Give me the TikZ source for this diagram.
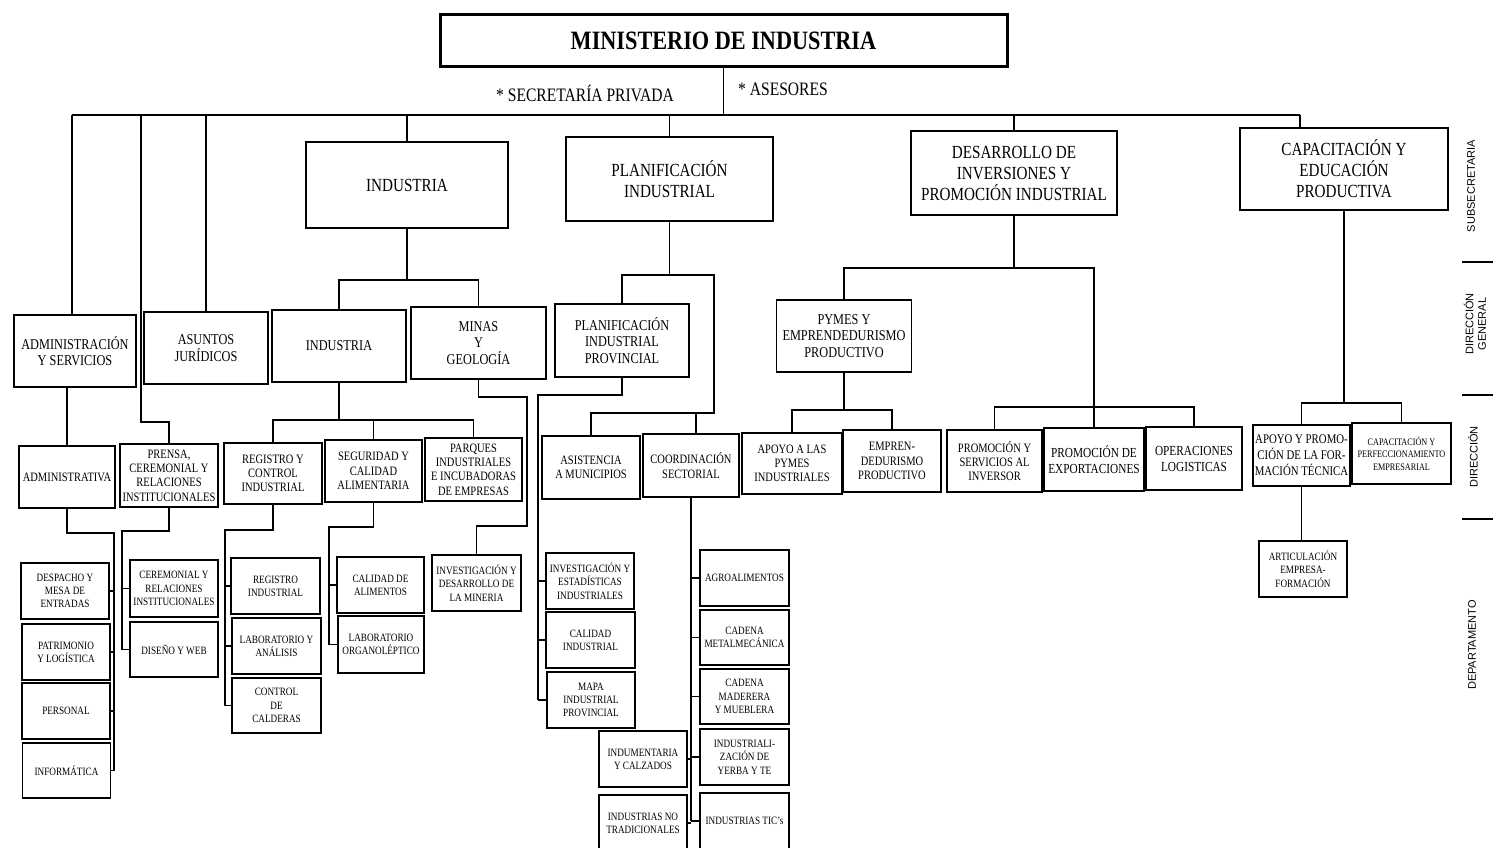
\documentclass[tikz,border=0pt]{standalone}
\usepackage{fontspec}
\setmainfont{Liberation Serif}[FakeStretch=0.82]
\newfontfamily\titlefont{Liberation Serif}[FakeStretch=0.84]
\newfontfamily\sidefont{Liberation Sans}
\begin{document}
\begin{tikzpicture}[x=1pt,y=-1pt,
  box/.style={draw, line width=1.3pt, align=center, inner xsep=0.5pt, inner ysep=1pt},
  subbox/.style={box, font=\fontsize{18.5}{21}\selectfont, minimum width=#1, minimum height=84pt},
  dgbox/.style={box, font=\fontsize{15}{16.5}\selectfont, minimum width=#1, minimum height=72pt},
  dirbox/.style={box, font=\fontsize{12.8}{14.3}\selectfont, minimum width=#1, minimum height=62pt},
  depbox/.style={box, font=\fontsize{11.2}{13.3}\selectfont, minimum width=#1, minimum height=56pt},
  conn/.style={line width=1.1pt},
  side/.style={font=\sidefont\fontsize{11}{12.5}\selectfont, rotate=90, align=center, inner sep=0pt},
  sepline/.style={line width=1.3pt}
]
\useasboundingbox (0,0) rectangle (1493,848);
\clip (0,0) rectangle (1493,848);
\fill[white] (0,0) rectangle (1493,848);

% ---------- top ----------
\node[draw, line width=3pt, minimum width=567pt, minimum height=52pt,
      font=\titlefont\bfseries\fontsize{26.5}{30}\selectfont] (title) at (723.5,41) {MINISTERIO DE INDUSTRIA};
\node[font=\fontsize{19}{22}\selectfont, inner sep=0pt] (sec) at (585,93) {* SECRETARÍA PRIVADA};
\node[font=\fontsize{19}{22}\selectfont, inner sep=0pt] (ase) at (783,89) {* ASESORES};

\coordinate (bus1) at (72,115);
\coordinate (bus2) at (1300,115);
\draw[conn] (bus1) -- (bus2);
\draw[conn] (title.south) -- (title.south |- bus1);

% ---------- subsecretarias ----------
\node[subbox=202pt, minimum height=86pt] (SIND) at (407,185) {INDUSTRIA};
\node[subbox=207pt] (SPLAN) at (669.5,179) {PLANIFICACIÓN\\INDUSTRIAL};
\node[subbox=206pt] (SDES) at (1014,173) {DESARROLLO DE\\INVERSIONES Y\\PROMOCIÓN INDUSTRIAL};
\node[subbox=208pt, minimum height=82pt] (SCAP) at (1344,169) {CAPACITACIÓN Y\\EDUCACIÓN\\PRODUCTIVA};

% ---------- direcciones generales ----------
\node[dgbox=122pt] (ADM) at (75,351) {ADMINISTRACIÓN\\Y SERVICIOS};
\node[dgbox=124pt] (ASU) at (206,348) {ASUNTOS\\JURÍDICOS};
\node[dgbox=134pt] (IND2) at (339,346) {INDUSTRIA};
\node[dgbox=135pt] (MIN) at (478.5,343) {MINAS\\Y\\GEOLOGÍA};
\node[dgbox=134pt, minimum height=73pt] (PLP) at (622,340.5) {PLANIFICACIÓN\\INDUSTRIAL\\PROVINCIAL};
\node[dgbox=135pt] (PYM) at (844,336) {PYMES Y\\EMPRENDEDURISMO\\PRODUCTIVO};

% ---------- direcciones ----------
\node[dirbox=96pt] (ADV) at (67,477) {ADMINISTRATIVA};
\node[dirbox=98pt, minimum height=63pt] (PRE) at (169,475.5) {PRENSA,\\CEREMONIAL Y\\RELACIONES\\INSTITUCIONALES};
\node[dirbox=98pt, minimum height=61pt] (RCI) at (273,473.5) {REGISTRO Y\\CONTROL\\INDUSTRIAL};
\node[dirbox=97pt] (SCA) at (373.5,471) {SEGURIDAD Y\\CALIDAD\\ALIMENTARIA};
\node[dirbox=97pt, minimum height=63pt] (PAR) at (473.5,469.5) {PARQUES\\INDUSTRIALES\\E INCUBADORAS\\DE EMPRESAS};
\node[dirbox=98pt, minimum height=63pt] (ASI) at (591,467.5) {ASISTENCIA\\A MUNICIPIOS};
\node[dirbox=96pt, minimum height=63pt] (COO) at (691,465.5) {COORDINACIÓN\\SECTORIAL};
\node[dirbox=100pt, minimum height=61pt] (APY) at (792,463.5) {APOYO A LAS\\PYMES\\INDUSTRIALES};
\node[dirbox=98pt] (EMP) at (892,461) {EMPREN-\\DEDURISMO\\PRODUCTIVO};
\node[dirbox=95pt] (PSI) at (994.5,461) {PROMOCIÓN Y\\SERVICIOS AL\\INVERSOR};
\node[dirbox=100pt, minimum height=63pt, font=\fontsize{13.8}{16}\selectfont] (PEX) at (1094,459.5) {PROMOCIÓN DE\\EXPORTACIONES};
\node[dirbox=96pt, minimum height=63pt, font=\fontsize{13.8}{16}\selectfont] (OPL) at (1194,458.5) {OPERACIONES\\LOGISTICAS};
\node[dirbox=97pt, minimum height=61pt, font=\fontsize{13.2}{16}\selectfont] (APF) at (1301.5,455.5) {APOYO Y PROMO-\\CIÓN DE LA FOR-\\MACIÓN TÉCNICA};
\node[dirbox=99pt, minimum height=61pt, font=\fontsize{10}{12.5}\selectfont] (CPE) at (1401.5,453.5) {CAPACITACIÓN Y\\PERFECCIONAMIENTO\\EMPRESARIAL};

% ---------- departamentos ----------
\node[depbox=88pt] (DME) at (65,591) {DESPACHO Y\\MESA DE\\ENTRADAS};
\node[depbox=88pt] (PYL) at (66,652) {PATRIMONIO\\Y LOGÍSTICA};
\node[depbox=88pt] (PER) at (66,711) {PERSONAL};
\node[depbox=88pt, minimum height=55pt] (INF) at (66.5,770.5) {INFORMÁTICA};
\node[depbox=88pt, minimum height=57pt] (CRI) at (174,588.5) {CEREMONIAL Y\\RELACIONES\\INSTITUCIONALES};
\node[depbox=88pt, minimum height=55pt] (DYW) at (174,649.5) {DISEÑO Y WEB};
\node[depbox=89pt] (RIN) at (275.5,586) {REGISTRO\\INDUSTRIAL};
\node[depbox=89pt] (LYA) at (276.5,646) {LABORATORIO Y\\ANÁLISIS};
\node[depbox=89pt, minimum height=55pt] (CDC) at (276.5,705.5) {CONTROL\\DE\\CALDERAS};
\node[depbox=87pt] (CDA) at (380.5,585) {CALIDAD DE\\ALIMENTOS};
\node[depbox=86pt, minimum height=57pt] (LOR) at (381,644.5) {LABORATORIO\\ORGANOLÉPTICO};
\node[depbox=89pt] (IDM) at (476.5,583) {INVESTIGACIÓN Y\\DESARROLLO DE\\LA MINERIA};
\node[depbox=88pt] (IEI) at (590,581) {INVESTIGACIÓN Y\\ESTADÍSTICAS\\INDUSTRIALES};
\node[depbox=89pt] (CIN) at (590.5,640) {CALIDAD\\INDUSTRIAL};
\node[depbox=88pt] (MIP) at (591,700) {MAPA\\INDUSTRIAL\\PROVINCIAL};
\node[depbox=89pt] (AGR) at (744.5,578) {AGROALIMENTOS};
\node[depbox=89pt, minimum height=55pt] (CME) at (744.5,637.5) {CADENA\\METALMECÁNICA};
\node[depbox=89pt, minimum height=55pt] (CMM) at (744.5,696.5) {CADENA\\MADERERA\\Y MUEBLERA};
\node[depbox=89pt] (IYT) at (744.5,757) {INDUSTRIALI-\\ZACIÓN DE\\YERBA Y TE};
\node[depbox=89pt] (TIC) at (744.5,821) {INDUSTRIAS TIC's};
\node[depbox=88pt] (IYC) at (643,759) {INDUMENTARIA\\Y CALZADOS};
\node[depbox=88pt] (INT) at (643,823) {INDUSTRIAS NO\\TRADICIONALES};
\node[depbox=88pt] (ART) at (1303,569) {ARTICULACIÓN\\EMPRESA-\\FORMACIÓN};

% ---------- connectors: bus to first level ----------
\draw[conn] (bus1) -- (bus1 |- ADM.north);
\coordinate (jp) at (141,422);
\draw[conn] (jp |- bus1) -- (jp) -| (PRE.north);
\draw[conn] (ASU.north |- bus1) -- (ASU.north);
\draw[conn] (SIND.north |- bus1) -- (SIND.north);
\draw[conn] (SPLAN.north |- bus1) -- (SPLAN.north);
\draw[conn] (SDES.north |- bus1) -- (SDES.north);
\draw[conn] (bus2) -- (bus2 |- SCAP.north);

% Industria
\coordinate (hI) at (0,280);
\draw[conn] (SIND.south) -- (SIND.south |- hI);
\draw[conn] (IND2.north) |- (MIN.north |- hI) -- (MIN.north);

% Planificacion
\coordinate (hP) at (714,275);
\coordinate (hP2) at (714,413);
\coordinate (jc) at (696,413);
\draw[conn] (SPLAN.south) -- (SPLAN.south |- hP);
\draw[conn] (PLP.north) |- (hP) -- (hP2) -| (ASI.north);
\draw[conn] (jc) -- (jc |- COO.north);

% Desarrollo
\coordinate (hD) at (1094,268);
\coordinate (hE) at (0,407);
\draw[conn] (SDES.south) -- (SDES.south |- hD);
\draw[conn] (PYM.north) |- (hD) -- (hD |- PEX.north);
\draw[conn] (PSI.north) |- (OPL.north |- hE) -- (OPL.north);

% Capacitacion
\coordinate (hC) at (0,403);
\draw[conn] (SCAP.south) -- (SCAP.south |- hC);
\draw[conn] (APF.north) |- (CPE.north |- hC) -- (CPE.north);
\draw[conn] (APF.south) -- (APF.south |- ART.north);

% Pymes
\coordinate (hY) at (0,410);
\draw[conn] (PYM.south) -- (PYM.south |- hY);
\draw[conn] (APY.north) |- (EMP.north |- hY) -- (EMP.north);

% Administracion
\draw[conn] (ADV.north |- ADM.south) -- (ADV.north);

% Industria DG
\coordinate (hR) at (0,420);
\draw[conn] (IND2.south) -- (IND2.south |- hR);
\draw[conn] (RCI.north) |- (PAR.north |- hR) -- (PAR.north);
\draw[conn] (SCA.north |- hR) -- (SCA.north);

% Minas
\coordinate (m1) at (527,397);
\coordinate (m2) at (527,526);
\draw[conn] (MIN.south) |- (m1) -- (m2) -| (IDM.north);

% Planificacion provincial
\coordinate (p1) at (538,395);
\draw[conn] (PLP.south) |- (p1) -- (p1 |- MIP.west);
\draw[conn] (p1 |- IEI.west) -- (IEI.west);
\draw[conn] (p1 |- CIN.west) -- (CIN.west);
\draw[conn] (p1 |- MIP.west) -- (MIP.west);

% Coordinacion sectorial
\draw[conn] (COO.south) -- (COO.south |- TIC.west);
\draw[conn] (COO.south |- AGR.west) -- (AGR.west);
\draw[conn] (COO.south |- CME.west) -- (CME.west);
\draw[conn] (COO.south |- CMM.west) -- (CMM.west);
\draw[conn] (COO.south |- IYT.west) -- (IYT.west);
\draw[conn] (COO.south |- TIC.west) -- (TIC.west);
\draw[conn] (COO.south |- IYC.east) -- (IYC.east);
\draw[conn] (COO.south |- INT.east) -- (INT.east);

% Administrativa
\coordinate (a1) at (114,533);
\draw[conn] (ADV.south) |- (a1) -- (a1 |- INF.east);
\draw[conn] (a1 |- DME.east) -- (DME.east);
\draw[conn] (a1 |- PYL.east) -- (PYL.east);
\draw[conn] (a1 |- PER.east) -- (PER.east);
\draw[conn] (a1 |- INF.east) -- (INF.east);

% Prensa
\coordinate (r1) at (122,531);
\draw[conn] (PRE.south) |- (r1) -- (r1 |- DYW.west);
\draw[conn] (r1 |- CRI.west) -- (CRI.west);
\draw[conn] (r1 |- DYW.west) -- (DYW.west);

% Registro
\coordinate (g1) at (225,530);
\draw[conn] (RCI.south) |- (g1) -- (g1 |- CDC.west);
\draw[conn] (g1 |- RIN.west) -- (RIN.west);
\draw[conn] (g1 |- LYA.west) -- (LYA.west);
\draw[conn] (g1 |- CDC.west) -- (CDC.west);

% Seguridad
\coordinate (s1) at (329,527);
\draw[conn] (SCA.south) |- (s1) -- (s1 |- LOR.west);
\draw[conn] (s1 |- CDA.west) -- (CDA.west);
\draw[conn] (s1 |- LOR.west) -- (LOR.west);

% ---------- side labels ----------
\node[side] (lsub) at (1471,186) {SUBSECRETARIA};
\node[side] (ldg) at (1475,324) {DIRECCIÓN\\GENERAL};
\node[side] (ldir) at (1473,457) {DIRECCIÓN};
\node[side] (ldep) at (1472,645) {DEPARTAMENTO};
\draw[sepline] (1462,262) -- (1493,262);
\draw[sepline] (1462,395) -- (1493,395);
\draw[sepline] (1462,519) -- (1493,519);
\end{tikzpicture}
\end{document}
